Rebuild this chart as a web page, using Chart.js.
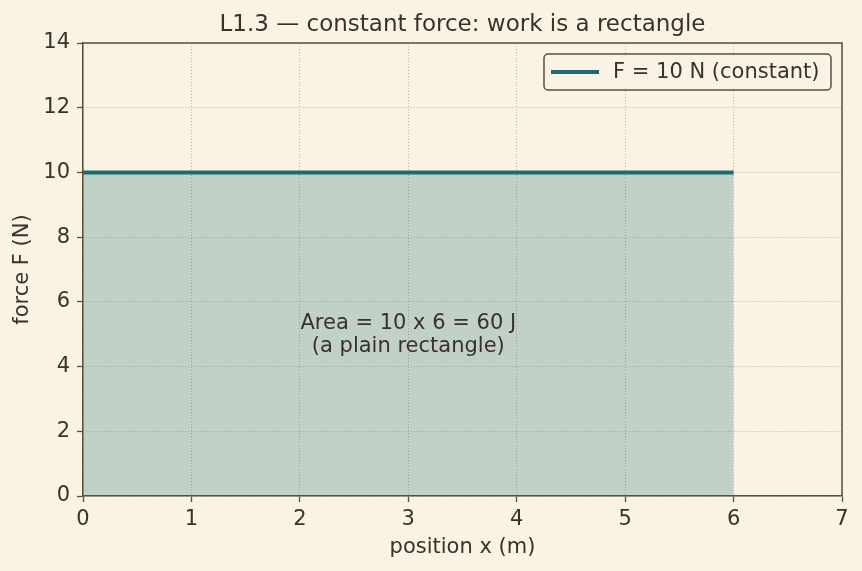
<!DOCTYPE html>
<html>
<head>
<meta charset="utf-8">
<script src="https://cdn.jsdelivr.net/npm/chart.js@4"></script>
<style>
  html, body { margin: 0; padding: 0; background: #faf3e4; }
  #wrap { width: 862px; height: 571px; }
</style>
</head>
<body>
<div id="wrap"><canvas id="workChart" width="862" height="571"></canvas></div>
<script>
// ---- data ----
const positions = [0, 6];        // m
const forces    = [10, 10];      // N
const xTicks    = [0, 1, 2, 3, 4, 5, 6, 7];
const yTicks    = [0, 2, 4, 6, 8, 10, 12, 14];
const areaNote  = ['Area = 10 x 6 = 60 J', '(a plain rectangle)'];
const noteAt    = { x: 3, y: 5 };

const BG     = '#faf3e4';
const INK    = '#3a3128';
const SPINE  = '#5a4e3e';
const TEAL   = '#1a6b73';
const FONT   = "'DejaVu Sans', sans-serif";
const FS     = 21;

// spines on top/right, title, legend box and the note
const extras = {
  id: 'extras',
  beforeDraw(chart) {
    const c = chart.ctx;
    c.save();
    c.fillStyle = BG;
    c.fillRect(0, 0, chart.width, chart.height);
    c.restore();
  },
  afterDatasetsDraw(chart) {
    const c = chart.ctx;
    const sx = chart.scales.x, sy = chart.scales.y;
    c.save();
    c.fillStyle = INK;
    c.font = FS + 'px ' + FONT;
    c.textAlign = 'center';
    c.textBaseline = 'middle';
    const nx = sx.getPixelForValue(noteAt.x), ny = sy.getPixelForValue(noteAt.y);
    c.fillText(areaNote[0], nx, ny - 11);
    c.fillText(areaNote[1], nx, ny + 12);
    c.restore();
  },
  afterDraw(chart) {
    const c = chart.ctx, a = chart.chartArea;
    c.save();
    c.strokeStyle = SPINE;
    c.lineWidth = 1.5;
    c.beginPath();
    c.moveTo(a.left, a.top); c.lineTo(a.right, a.top); c.lineTo(a.right, a.bottom);
    c.stroke();

    // title
    c.fillStyle = INK;
    c.font = '23px ' + FONT;
    c.textAlign = 'center';
    c.textBaseline = 'middle';
    c.fillText('L1.3 \u2014 constant force: work is a rectangle', (a.left + a.right) / 2, 25);

    // legend
    const ds = chart.data.datasets[0];
    const bx = 544, by = 54, bw = 287, bh = 36;
    c.fillStyle = 'rgba(250,243,228,0.9)';
    c.strokeStyle = SPINE;
    c.lineWidth = 1.5;
    c.beginPath();
    c.roundRect(bx, by, bw, bh, 4);
    c.fill(); c.stroke();
    c.strokeStyle = ds.borderColor;
    c.lineWidth = 4;
    c.beginPath();
    c.moveTo(bx + 7, by + bh / 2); c.lineTo(bx + 55, by + bh / 2);
    c.stroke();
    c.fillStyle = INK;
    c.font = FS + 'px ' + FONT;
    c.textAlign = 'left';
    c.fillText(ds.label, bx + 69, by + bh / 2 + 1);
    c.restore();
  }
};

const gridStyle = {
  color: 'rgba(150,140,120,0.6)',
  lineWidth: 1,
  tickColor: SPINE,
  tickBorderDash: [],
  tickLength: 6,
  tickWidth: 1.3
};
const borderStyle = { color: SPINE, width: 1.5, dash: [1, 2] };

new Chart(document.getElementById('workChart'), {
  type: 'line',
  data: {
    datasets: [{
      label: 'F = 10 N (constant)',
      data: positions.map((x, i) => ({ x: x, y: forces[i] })),
      borderColor: TEAL,
      borderWidth: 4,
      backgroundColor: 'rgba(26,107,115,0.25)',
      fill: 'origin',
      pointRadius: 0,
      tension: 0
    }]
  },
  options: {
    responsive: false,
    animation: false,
    layout: { padding: { top: 43, right: 20, left: 0, bottom: 0 } },
    plugins: {
      legend: { display: false },
      tooltip: { enabled: false }
    },
    scales: {
      x: {
        type: 'linear',
        min: 0, max: 7,
        afterBuildTicks: s => { s.ticks = xTicks.map(v => ({ value: v })); },
        afterFit: s => { s.height = 75; },
        grid: gridStyle,
        border: borderStyle,
        ticks: { color: INK, font: { family: FONT, size: FS }, padding: 5 },
        title: { display: true, text: 'position x (m)', color: INK,
                 font: { family: FONT, size: FS }, padding: { top: 4, bottom: 11 } }
      },
      y: {
        type: 'linear',
        min: 0, max: 14,
        afterBuildTicks: s => { s.ticks = yTicks.map(v => ({ value: v })); },
        afterFit: s => { s.width = 83; },
        grid: gridStyle,
        border: borderStyle,
        ticks: { color: INK, font: { family: FONT, size: FS }, padding: 7 },
        title: { display: true, text: 'force F (N)', color: INK,
                 font: { family: FONT, size: FS }, padding: { top: 10, bottom: 4 } }
      }
    }
  },
  plugins: [extras]
});
</script>
</body>
</html>
